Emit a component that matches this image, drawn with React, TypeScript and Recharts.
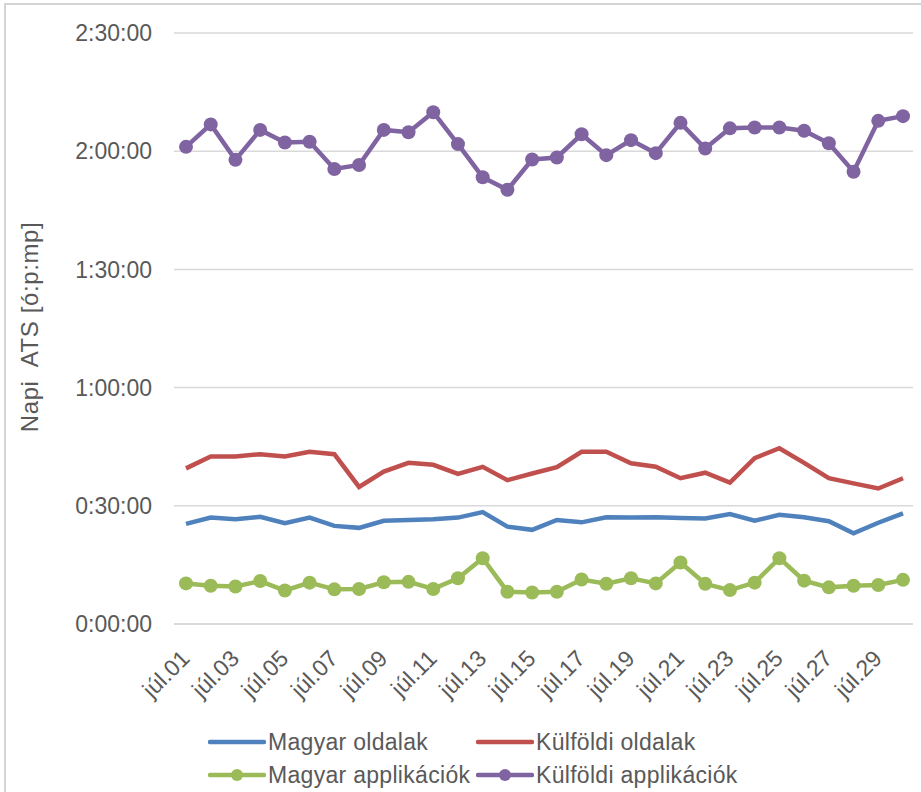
import React from 'react';
import { LineChart, Line, XAxis, YAxis, CartesianGrid, Legend } from 'recharts';

const days = [
  'júl.01','júl.02','júl.03','júl.04','júl.05','júl.06','júl.07','júl.08','júl.09','júl.10',
  'júl.11','júl.12','júl.13','júl.14','júl.15','júl.16','júl.17','júl.18','júl.19','júl.20',
  'júl.21','júl.22','júl.23','júl.24','júl.25','júl.26','júl.27','júl.28','júl.29','júl.30',
];

// values in minutes
const magyarOldalak = [
  25.4, 27.0, 26.6, 27.2, 25.6, 27.0, 24.9, 24.4, 26.2, 26.4,
  26.6, 27.0, 28.4, 24.7, 23.9, 26.4, 25.8, 27.1, 27.0, 27.1,
  26.9, 26.8, 27.9, 26.2, 27.7, 27.1, 26.1, 23.0, 25.7, 28.1,
];
const kulfoldiOldalak = [
  39.5, 42.5, 42.5, 43.1, 42.5, 43.7, 43.1, 34.8, 38.7, 40.9,
  40.4, 38.1, 39.9, 36.5, 38.2, 39.8, 43.7, 43.7, 40.8, 39.9,
  37.0, 38.4, 35.9, 42.1, 44.6, 40.9, 37.0, 35.7, 34.4, 37.0,
];
const magyarApp = [
  10.3, 9.7, 9.5, 10.9, 8.5, 10.5, 8.8, 8.9, 10.6, 10.7,
  8.9, 11.6, 16.7, 8.2, 8.0, 8.2, 11.3, 10.2, 11.6, 10.3,
  15.6, 10.2, 8.6, 10.5, 16.7, 11.0, 9.3, 9.7, 9.9, 11.2,
];
const kulfoldiApp = [
  121.1, 126.8, 117.8, 125.4, 122.2, 122.4, 115.5, 116.5, 125.4, 124.8,
  129.9, 121.8, 113.4, 110.2, 117.9, 118.4, 124.3, 119.0, 122.8, 119.5,
  127.2, 120.7, 125.8, 126.0, 126.0, 125.2, 122.0, 114.8, 127.7, 128.9,
];

const yTicks = [0, 30, 60, 90, 120, 150];
const seriesNames = ['Magyar oldalak', 'Külföldi oldalak', 'Magyar applikációk', 'Külföldi applikációk'];
const seriesKeys = ['mo', 'ko', 'ma', 'ka'];
const seriesColors = ['#4F81BD', '#C0504D', '#9BBB59', '#8064A2'];
const seriesDots = [false, false, true, true];
const yLabel = 'Napi  ATS [ó:p:mp]';

const data = days.map((d, i) => ({
  day: d,
  mo: magyarOldalak[i],
  ko: kulfoldiOldalak[i],
  ma: magyarApp[i],
  ka: kulfoldiApp[i],
}));

const FONT = '"Liberation Sans", Arial, sans-serif';
const TEXT = '#595959';
const FS = 23;

const fmt = (m: number) => {
  const total = Math.round(m * 60);
  const h = Math.floor(total / 3600);
  const mm = Math.floor((total % 3600) / 60);
  const ss = total % 60;
  return `${h}:${String(mm).padStart(2, '0')}:${String(ss).padStart(2, '0')}`;
};

const XTick = (props: any) => {
  const { x, y, payload } = props;
  const ax = x + 5;
  const ay = y + 28;
  return (
    <text
      x={ax}
      y={ay}
      transform={`rotate(-45, ${ax}, ${ay})`}
      textAnchor="end"
      fill={TEXT}
      fontSize={FS}
      fontFamily={FONT}
    >
      {payload.value}
    </text>
  );
};

const YLabel = () => (
  <text
    x={29}
    y={327}
    transform="rotate(-90, 29, 327)"
    textAnchor="middle"
    dominantBaseline="central"
    fill={TEXT}
    fontSize={24}
    fontFamily={FONT}
    xmlSpace="preserve"
    style={{ whiteSpace: 'pre', letterSpacing: '0.6px' }}
  >
    {yLabel}
  </text>
);

const legendCols = [208, 476];
const legendRows = [22, 55];

const renderLegend = () => (
  <div style={{ position: 'relative', width: 921, height: 72, fontFamily: FONT, fontSize: FS, color: TEXT, letterSpacing: '0.3px' }}>
    {seriesNames.map((name, i) => (
      <div
        key={name}
        style={{
          position: 'absolute',
          left: legendCols[i % 2],
          top: legendRows[Math.floor(i / 2)] - 14,
          height: 28,
          display: 'flex',
          alignItems: 'center',
          whiteSpace: 'nowrap',
        }}
      >
        <svg width={58} height={16} style={{ marginRight: 2 }}>
          <line x1={2} y1={8} x2={56} y2={8} stroke={seriesColors[i]} strokeWidth={4.5} strokeLinecap="round" />
          {seriesDots[i] && <circle cx={29} cy={8} r={6} fill={seriesColors[i]} />}
        </svg>
        <span>{name}</span>
      </div>
    ))}
  </div>
);

export default function App() {
  return (
    <div style={{ position: 'absolute', left: 0, top: 0, width: 921, height: 792, overflow: 'hidden', background: '#fff' }}>
      <div
        style={{
          position: 'absolute',
          left: 4,
          top: 3,
          width: 1000,
          height: 1000,
          borderLeft: '2px solid #D4D4D4',
          borderTop: '2px solid #D4D4D4',
        }}
      />
      <div style={{ position: 'absolute', left: 0, top: 0 }}>
        <LineChart width={921} height={792} data={data} margin={{ top: 33, right: 8, bottom: 0, left: 0 }}>
          <CartesianGrid vertical={false} stroke="#D9D9D9" strokeWidth={1.5} />
          <XAxis
            dataKey="day"
            height={168}
            interval={1}
            tick={<XTick />}
            tickLine={false}
            axisLine={{ stroke: '#D9D9D9', strokeWidth: 1.5 }}
            padding={{ left: 12, right: 10 }}
          />
          <YAxis
            width={174}
            domain={[0, 150]}
            ticks={yTicks}
            tickFormatter={fmt}
            axisLine={false}
            tickLine={false}
            tickMargin={16}
            tick={{ fill: TEXT, fontSize: FS, fontFamily: FONT }}
            label={<YLabel />}
          />
          <Legend
            layout="horizontal"
            verticalAlign="middle"
            align="center"
            content={renderLegend}
            wrapperStyle={{ top: 720, left: 0, width: 921, height: 72 }}
          />
          {seriesKeys.map((k, i) => (
            <Line
              key={k}
              type="linear"
              dataKey={k}
              name={seriesNames[i]}
              stroke={seriesColors[i]}
              strokeWidth={4.5}
              dot={seriesDots[i] ? { r: 7, fill: seriesColors[i], stroke: 'none' } : false}
              activeDot={false}
              isAnimationActive={false}
            />
          ))}
        </LineChart>
      </div>
    </div>
  );
}
